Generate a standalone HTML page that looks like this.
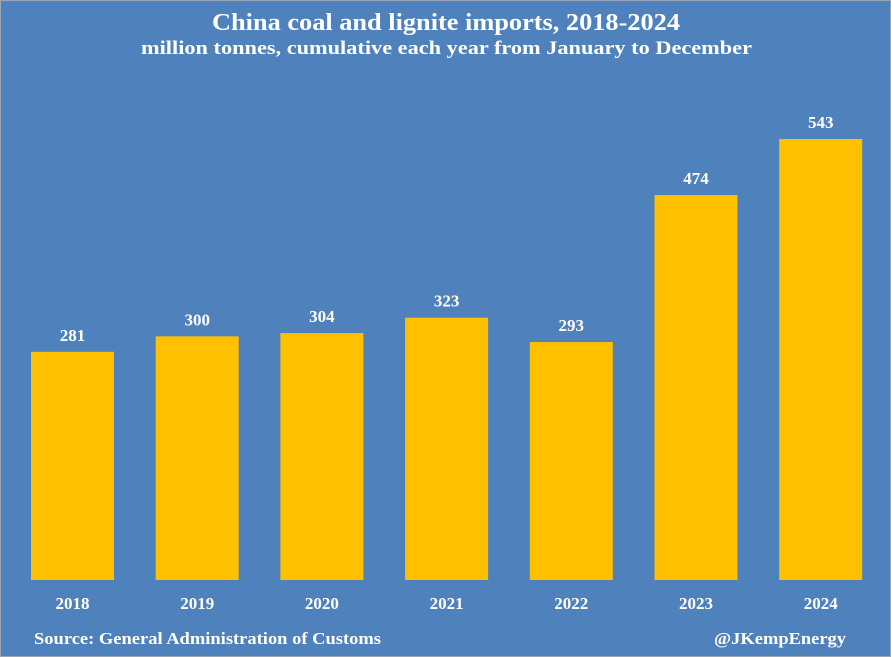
<!DOCTYPE html>
<html><head><meta charset="utf-8"><style>
html,body{margin:0;padding:0;}
body{width:891px;height:657px;overflow:hidden;}
svg{display:block;}
text{font-family:"Liberation Serif",serif;font-weight:bold;fill:#fff;}
</style></head><body>
<svg id="chart" width="891" height="657">
<rect x="0" y="0" width="891" height="657" fill="#4f81bd"/>
<rect x="0.5" y="0.5" width="890" height="656" fill="none" stroke="#9aa5b5" stroke-width="1"/>
<text x="212" y="30" textLength="468" lengthAdjust="spacingAndGlyphs" font-size="24">China coal and lignite imports, 2018-2024</text>
<text x="141" y="54" textLength="611" lengthAdjust="spacingAndGlyphs" font-size="19">million tonnes, cumulative each year from January to December</text>
<text x="34" y="644" textLength="347" lengthAdjust="spacingAndGlyphs" font-size="17">Source: General Administration of Customs</text>
<text x="714" y="644" textLength="132" lengthAdjust="spacingAndGlyphs" font-size="17">@JKempEnergy</text>
<g id="bars"></g>
</svg>
<script>
const categories = ["2018","2019","2020","2021","2022","2023","2024"];
const values = [281,300,304,323,293,474,543];
const valueLabels = ["281","300","304","323","293","474","543"];

const baseY = 580, pxPerUnit = 441/543;
const x0 = 31, step = 124.7, barW = 83;
function yScale(v){ return baseY - v*pxPerUnit; }
function xScale(i){ return x0 + i*step; }
const g = document.getElementById('bars');
const ns = "http://www.w3.org/2000/svg";
categories.forEach((c,i)=>{
  const x = xScale(i), y = yScale(values[i]);
  const r = document.createElementNS(ns,'rect');
  r.setAttribute('x',x); r.setAttribute('y',y);
  r.setAttribute('width',barW); r.setAttribute('height',baseY-y);
  r.setAttribute('fill','#ffc000');
  
  
  g.appendChild(r);
  const t = document.createElementNS(ns,'text');
  t.setAttribute('x',x+barW/2); t.setAttribute('y',y-11);
  t.setAttribute('text-anchor','middle'); t.setAttribute('font-size','17');
  t.textContent = valueLabels[i];
  
  
  g.appendChild(t);
  const l = document.createElementNS(ns,'text');
  l.setAttribute('x',x+barW/2); l.setAttribute('y',609);
  l.setAttribute('text-anchor','middle'); l.setAttribute('font-size','17');
  l.textContent = c;
  
  
  g.appendChild(l);
});
</script>
</body></html>
